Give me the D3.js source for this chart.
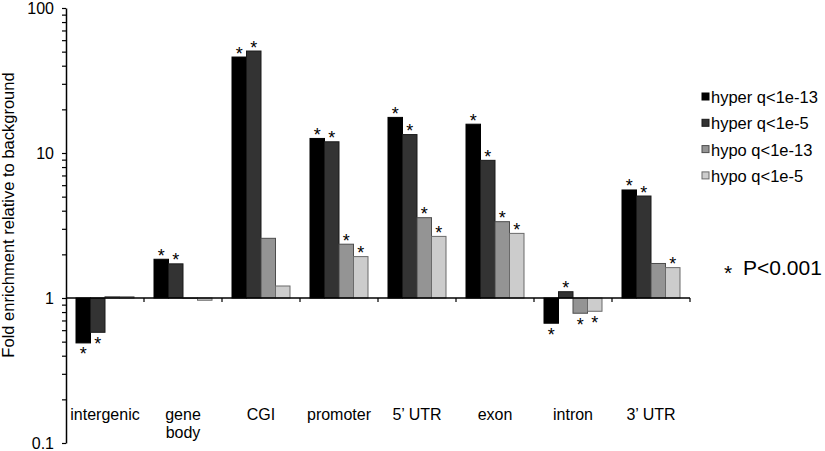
<!DOCTYPE html>
<meta charset="utf-8">
<style>
  body { margin: 0; background: #fff; }
  svg text { font-family: "Liberation Sans", Arial, Helvetica, sans-serif; fill: #000; }
</style>
<svg width="825" height="451"></svg>
<script src="https://cdn.jsdelivr.net/npm/d3@7"></script>
<script>

// categories along the x axis
var categories = ["intergenic", "gene\nbody", "CGI", "promoter", "5\u2019 UTR", "exon", "intron", "3\u2019 UTR"];

// series names (legend)
var seriesNames = ["hyper q<1e-13", "hyper q<1e-5", "hypo q<1e-13", "hypo q<1e-5"];

// fold enrichment values, one array per series
var hyper13 = [0.49, 1.85, 45.9, 12.6, 17.6, 15.8, 0.67, 5.56];
var hyper5  = [0.58, 1.72, 50.5, 11.95, 13.4, 8.9, 1.105, 5.05];
var hypo13  = [1.02, 0.995, 2.58, 2.35, 3.58, 3.36, 0.785, 1.73];
var hypo5   = [1.02, 0.965, 1.21, 1.93, 2.66, 2.79, 0.81, 1.62];

// significance marks (* P<0.001)
var sigHyper13 = [1, 1, 1, 1, 1, 1, 1, 1];
var sigHyper5  = [1, 1, 1, 1, 1, 1, 1, 1];
var sigHypo13  = [0, 0, 0, 1, 1, 1, 1, 0];
var sigHypo5   = [0, 0, 0, 1, 1, 1, 1, 1];

// y tick labels
var yTickLabels = ["0.1", "1", "10", "100"];

var seriesValues = [hyper13, hyper5, hypo13, hypo5];
var seriesSig = [sigHyper13, sigHyper5, sigHypo13, sigHypo5];
var fills = ["#000000", "#333333", "#949494", "#cccccc"];
var strokes = ["#000000", "#1a1a1a", "#4d4d4d", "#6a6a6a"];

var svg = d3.select("svg");
var g = svg.append("g");

var x = d3.scaleBand().domain(categories).range([66, 690]).padding(0);
var xs = d3.scaleBand().domain(seriesNames).range([10, x.bandwidth() - 10]).padding(0);
var y = d3.scaleLog().domain([0.1, 100]).range([443, 8]);

// rows for bars
var rows = [];
categories.forEach(function(c, i) {
  seriesNames.forEach(function(s, j) {
    rows.push({cat: c, ser: s, j: j, v: seriesValues[j][i], sig: seriesSig[j][i]});
  });
});

// bars, drawn from 1 (background level)
g.selectAll(".bar")
  .data(rows)
  .enter().append("rect")
    .attr("class", "bar")
    .attr("x", function(d) { return x(d.cat) + xs(d.ser); })
    .attr("width", xs.bandwidth())
    .attr("y", function(d) { return Math.min(y(d.v), y(1)); })
    .attr("height", function(d) { return Math.abs(y(d.v) - y(1)); })
    .attr("fill", function(d) { return fills[d.j]; })
    .attr("stroke", function(d) { return strokes[d.j]; })
    .attr("stroke-width", 1);

// stars
g.selectAll(".star")
  .data(rows.filter(function(d) { return d.sig; }))
  .enter().append("text")
    .attr("class", "star")
    .attr("x", function(d) { return x(d.cat) + xs(d.ser) + xs.bandwidth() / 2; })
    .attr("y", function(d) { return d.v >= 1 ? y(d.v) + 2.5 : y(d.v) + 17.5; })
    .attr("text-anchor", "middle")
    .style("font-size", "18px")
    .text("*");

// baseline at 1
g.append("line")
  .attr("x1", 66).attr("x2", x.range()[1])
  .attr("y1", y(1)).attr("y2", y(1))
  .attr("stroke", "#000").attr("stroke-width", 1.5);

// category boundary ticks
g.selectAll(".ctick")
  .data(categories)
  .enter().append("line")
    .attr("class", "ctick")
    .attr("x1", function(d) { return x(d) + x.bandwidth(); })
    .attr("x2", function(d) { return x(d) + x.bandwidth(); })
    .attr("y1", y(1)).attr("y2", y(1) + 4)
    .attr("stroke", "#000").attr("stroke-width", 1.2);

// category labels
var lab = g.selectAll(".clab")
  .data(categories)
  .enter().append("text")
    .attr("class", "clab")
    .attr("text-anchor", "middle")
    .style("font-size", "16px")
    .attr("transform", function(d) { return "translate(" + (x(d) + x.bandwidth() / 2) + ",420)"; });
lab.selectAll("tspan")
  .data(function(d) { return d.split("\n"); })
  .enter().append("tspan")
    .attr("x", 0)
    .attr("dy", function(d, i) { return i ? 18 : 0; })
    .text(function(d) { return d; });

// y axis: minor ticks every 1..9, labels at decades
var yTicks = [];
[0.1, 1, 10].forEach(function(p) {
  for (var k = 1; k < 10; k++) yTicks.push(+(p * k).toPrecision(3));
});
yTicks.push(100);

var yAxis = d3.axisLeft(y)
  .tickValues(yTicks)
  .tickSize(4)
  .tickSizeOuter(0)
  .tickPadding(8)
  .tickFormat(function(d) {
    var idx = yTickLabels.indexOf(String(d));
    return idx >= 0 ? yTickLabels[idx] : "";
  });

var ya = g.append("g")
  .attr("transform", "translate(66,0)")
  .call(yAxis);
ya.select(".domain").attr("stroke", "#000").attr("stroke-width", 1.5);
ya.selectAll(".tick line").attr("stroke", "#000").attr("stroke-width", 1.2);
ya.selectAll(".tick text")
  .style("font-size", "16px")
  .style("font-family", "'Liberation Sans', Arial, sans-serif")
  .attr("fill", "#000");

// y axis title
g.append("text")
  .attr("transform", "translate(14,215) rotate(-90)")
  .attr("text-anchor", "middle")
  .style("font-size", "16.5px")
  .text("Fold enrichment relative to background");

// legend
var leg = g.selectAll(".leg")
  .data(seriesNames)
  .enter().append("g")
    .attr("class", "leg")
    .attr("transform", function(d, i) { return "translate(702," + (103 + i * 26.3) + ")"; });
leg.append("rect")
  .attr("x", 0).attr("y", -10)
  .attr("width", 7).attr("height", 7)
  .attr("fill", function(d, i) { return fills[i]; })
  .attr("stroke", function(d, i) { return strokes[i]; })
  .attr("stroke-width", 1);
leg.append("text")
  .attr("x", 9)
  .style("font-size", "16.5px")
  .text(function(d) { return d; });

// significance note
g.append("text")
  .attr("x", 728).attr("y", 280)
  .attr("text-anchor", "middle")
  .style("font-size", "21px")
  .text("*");
g.append("text")
  .attr("x", 743).attr("y", 275)
  .style("font-size", "21px")
  .text("P<0.001");

</script>
